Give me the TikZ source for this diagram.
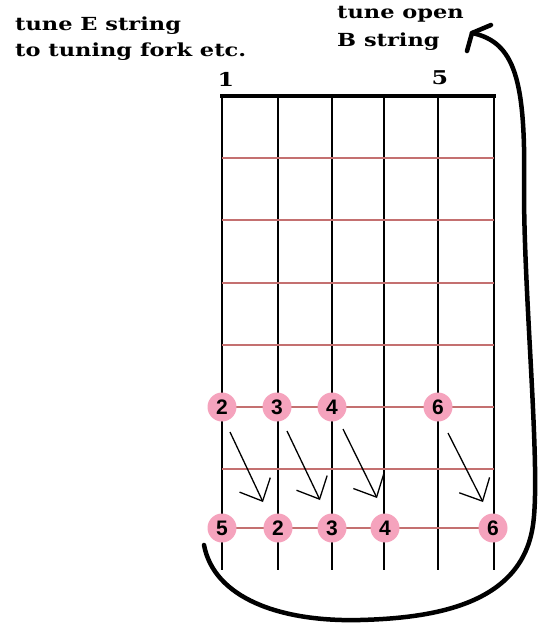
\documentclass[tikz,border=0pt]{standalone}
\usepackage{fontspec}
\usetikzlibrary{arrows.meta}
\newfontfamily\notefont[FakeStretch=1.25]{DejaVu Serif}
\newfontfamily\numfont{Liberation Sans}
\definecolor{fretred}{RGB}{196,112,112}
\definecolor{dotpink}{RGB}{245,163,189}
\begin{document}
\begin{tikzpicture}[x=1pt,y=-1pt,
  stringline/.style={line width=1.3pt, black},
  fretline/.style={line width=1.6pt, fretred},
  nutline/.style={line width=4pt, black},
  dot/.style={circle, fill=dotpink, minimum size=29pt, inner sep=0pt,
    font=\numfont\bfseries\fontsize{21}{21}\selectfont},
  hint/.style={line width=1.3pt, -{Straight Barb[length=18pt,width=34pt]}},
  bigarrow/.style={line width=4.5pt, line cap=round, line join=round},
  notetext/.style={anchor=base west, inner sep=0pt,
    font=\notefont\bfseries\fontsize{18}{18}\selectfont},
  fretnum/.style={anchor=base, inner sep=0pt,
    font=\notefont\bfseries\fontsize{19}{19}\selectfont}
]
\useasboundingbox (0,0) rectangle (540,625);

% strings
\foreach \x in {222,278,332,384,438,494}
  \draw[stringline] (\x,96) -- (\x,570);
% frets
\foreach \y in {158,220,283,345,407,469,528}
  \draw[fretline] (222,\y) -- (494,\y);
% nut
\draw[nutline] (220,96) -- (496,96);

% texts
\node[notetext] (t1) at (15,30) {tune E string};
\node[notetext] (t2) at (15,56.5) {to tuning fork etc.};
\node[notetext] (t3) at (337,18) {tune open};
\node[notetext] (t4) at (337,46) {B string};
\node[fretnum] (f1) at (226,86) {1};
\node[fretnum] (f5) at (440,84) {5};

% dots
\node[dot] (u2) at (222,407) {2};
\node[dot] (u3) at (277,407) {3};
\node[dot] (u4) at (332,407) {4};
\node[dot] (u6) at (438,407) {6};
\node[dot] (l5) at (222,528) {5};
\node[dot] (l2) at (278,528) {2};
\node[dot] (l3) at (332,528) {3};
\node[dot] (l4) at (385,528) {4};
\node[dot] (l6) at (493,528) {6};

% small arrows
\coordinate (a1s) at (230,432); \coordinate (a1e) at (263,502);
\coordinate (a2s) at (287,431); \coordinate (a2e) at (320,500);
\coordinate (a3s) at (343,429); \coordinate (a3e) at (377,498);
\coordinate (a4s) at (448,433); \coordinate (a4e) at (483,502);
\draw[hint] (a1s) -- (a1e);
\draw[hint] (a2s) -- (a2e);
\draw[hint] (a3s) -- (a3e);
\draw[hint] (a4s) -- (a4e);

% big curved arrow
\coordinate (bs) at (204,545);
\coordinate (bt) at (472,33);
\draw[bigarrow] (bs) .. controls (214,598) and (280,622) .. (360,620)
  .. controls (440,618) and (522,602) .. (533,525)
  .. controls (541,470) and (524,300) .. (524,190)
  .. controls (526,80) and (515,42) .. (bt);
\coordinate (h1) at (467,51);
\coordinate (h2) at (491,25);
\draw[bigarrow] (h1) -- (bt) -- (h2);
\end{tikzpicture}
\end{document}
